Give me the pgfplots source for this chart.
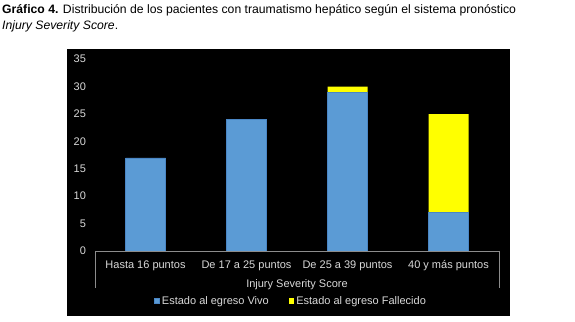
\documentclass[border=0pt]{standalone}
\usepackage{fontspec}
\setmainfont{Liberation Sans}
\usepackage{pgfplots}
\pgfplotsset{compat=1.18}
\definecolor{txt}{HTML}{D9D9D9}
\definecolor{barblue}{HTML}{5B9BD5}
\definecolor{barblueedge}{HTML}{4A86C5}
\definecolor{baryel}{HTML}{FFFF00}
\definecolor{axgray}{HTML}{8C8C8C}
\begin{document}
\begin{tikzpicture}[x=1pt,y=1pt]
\useasboundingbox (0,0) rectangle (575,321);
\fill[black] (67,5) rectangle (510,272);
\node[anchor=base west, inner sep=0, font=\fontsize{12.2}{14}\selectfont] at (2,307) {\textbf{Gráfico 4.} Distribución de los pacientes con traumatismo hepático según el sistema pronóstico};
\node[anchor=base west, inner sep=0, font=\fontsize{12.2}{14}\selectfont] at (2,291) {\textit{Injury Severity Score}.};
\begin{axis}[
  at={(95pt,70pt)}, anchor=south west,
  scale only axis, width=404pt, height=191.8pt,
  ybar stacked, bar width=40pt,
  xmin=-0.5, xmax=3.5, ymin=0, ymax=35,
  xtick={0,1,2,3},
  xticklabels={Hasta 16 puntos, De 17 a 25 puntos, De 25 a 39 puntos, 40 y más puntos},
  ytick={0,5,...,35},
  axis x line*=bottom, axis y line*=left,
  x axis line style={draw=axgray, -, line width=0.8pt},
  y axis line style={draw=none},
  major tick length=0pt,
  tick style={draw=none},
  ticklabel style={font=\fontsize{11}{13}\selectfont, text=txt},
  /pgf/number format/assume math mode=true,
  xticklabel style={anchor=base, yshift=-17pt},
  yticklabel style={xshift=-5.5pt},
  xlabel={Injury Severity Score},
  xlabel style={at={(axis description cs:0.5,0)}, anchor=base, yshift=-36pt, font=\fontsize{11}{13}\selectfont, text=txt},
  legend style={at={(axis description cs:0.485,-0.2607)}, anchor=center, fill=black, draw=none, text=txt, font=\fontsize{11}{13}\selectfont, legend columns=2, /tikz/every even column/.append style={column sep=18pt}},
  legend image code/.code={\fill[#1] (0pt,-2.5pt) rectangle (5.5pt,3pt);},
]
\addplot[fill=barblue, draw=barblueedge, line width=0.5pt] coordinates {(0,17) (1,24) (2,29) (3,7)};
\addplot[fill=baryel, draw=none] coordinates {(0,0) (1,0) (2,1) (3,18)};
\legend{Estado al egreso Vivo, Estado al egreso Fallecido}
\end{axis}
\draw[axgray, line width=0.8pt] (95,70) -- (95,33);
\draw[axgray, line width=0.8pt] (499,70) -- (499,33);
\end{tikzpicture}
\end{document}
